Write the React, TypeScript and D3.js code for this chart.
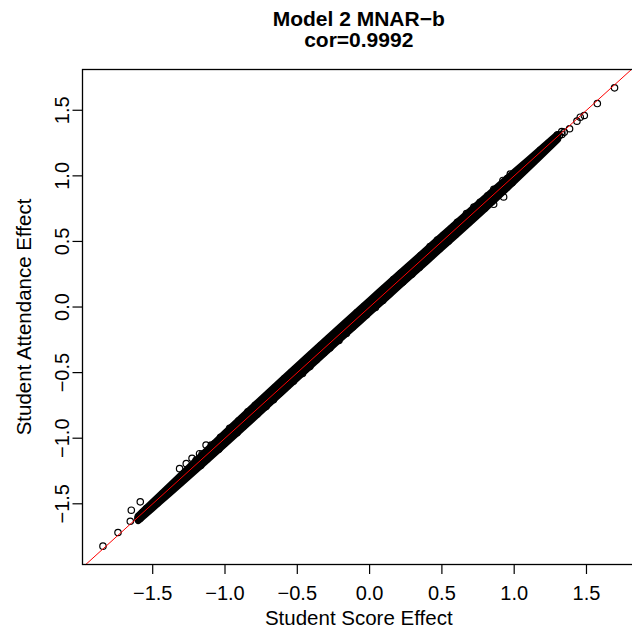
import * as d3 from 'd3';

const W = 632;
const H = 628;

const titleLines = ['Model 2 MNAR\u2212b', 'cor=0.9992'];
const xLabel = 'Student Score Effect';
const yLabel = 'Student Attendance Effect';
const tickValues = [-1.5, -1, -0.5, 0, 0.5, 1, 1.5];

// [score effect, attendance effect]
const outerPoints: [number, number][] = [
  [-1.844, -1.823], [-1.740, -1.719], [-1.655, -1.633], [-1.648, -1.549],
  [-1.586, -1.485], [-1.314, -1.232], [-1.268, -1.194], [-1.228, -1.153],
  [-1.176, -1.118], [-1.131, -1.052], [0.858, 0.783], [0.927, 0.839],
  [1.330, 1.316], [1.383, 1.359], [1.434, 1.417], [1.457, 1.447],
  [1.485, 1.460], [1.575, 1.551], [1.694, 1.671],
];

// envelope of the overplotted core (where the circles pile up into solid ink)
const coreScore = [-1.60, -1.45, -1.30, -1.15, -1.00, -0.80, -0.60, -0.40, -0.20, 0.00, 0.20, 0.40, 0.60, 0.80, 1.00, 1.15, 1.30];
const coreLow = [-1.625, -1.480, -1.335, -1.188, -1.040, -0.840, -0.638, -0.436, -0.236, -0.038, 0.160, 0.358, 0.556, 0.756, 0.962, 1.120, 1.280];
const coreHigh = [-1.595, -1.438, -1.280, -1.122, -0.965, -0.758, -0.554, -0.352, -0.152, 0.046, 0.244, 0.440, 0.636, 0.830, 1.024, 1.168, 1.312];

const lowerBand: [number, number][] = [
  [-1.602, -1.610], [-1.588, -1.613], [-1.571, -1.569], [-1.559, -1.575],
  [-1.543, -1.537], [-1.528, -1.549], [-1.516, -1.520], [-1.499, -1.511],
  [-1.487, -1.495], [-1.470, -1.495], [-1.458, -1.456], [-1.441, -1.457],
  [-1.429, -1.423], [-1.414, -1.435], [-1.398, -1.402], [-1.386, -1.398],
  [-1.371, -1.379], [-1.357, -1.382], [-1.342, -1.340], [-1.329, -1.345],
  [-1.313, -1.307], [-1.301, -1.322], [-1.286, -1.290], [-1.272, -1.284],
  [-1.258, -1.266], [-1.243, -1.268], [-1.229, -1.227], [-1.214, -1.230],
];

const coreBand: [number, number][] = [
  [-1.200, -1.169], [-1.189, -1.216], [-1.180, -1.172], [-1.168, -1.209], [-1.158, -1.120], [-1.147, -1.159],
  [-1.137, -1.115], [-1.126, -1.160], [-1.117, -1.102], [-1.105, -1.111], [-1.095, -1.052], [-1.084, -1.104],
  [-1.073, -1.042], [-1.063, -1.090], [-1.052, -1.044], [-1.043, -1.084], [-1.031, -0.993], [-1.021, -1.033],
  [-1.010, -0.988], [-1.000, -1.034], [-0.989, -0.974], [-0.980, -0.986], [-0.968, -0.925], [-0.958, -0.978],
  [-0.947, -0.916], [-0.937, -0.964], [-0.926, -0.918], [-0.917, -0.958], [-0.905, -0.867], [-0.895, -0.907],
  [-0.884, -0.862], [-0.874, -0.908], [-0.863, -0.848], [-0.854, -0.860], [-0.842, -0.799], [-0.832, -0.852],
  [-0.821, -0.852], [-0.811, -0.784], [-0.800, -0.808], [-0.791, -0.750], [-0.779, -0.817], [-0.769, -0.757],
  [-0.758, -0.780], [-0.748, -0.714], [-0.737, -0.752], [-0.728, -0.722], [-0.716, -0.759], [-0.706, -0.686],
  [-0.695, -0.664], [-0.685, -0.712], [-0.674, -0.666], [-0.665, -0.706], [-0.653, -0.615], [-0.643, -0.655],
  [-0.632, -0.610], [-0.622, -0.656], [-0.611, -0.596], [-0.602, -0.608], [-0.590, -0.547], [-0.580, -0.600],
  [-0.569, -0.600], [-0.559, -0.532], [-0.548, -0.556], [-0.539, -0.498], [-0.527, -0.565], [-0.517, -0.505],
  [-0.506, -0.528], [-0.496, -0.462], [-0.485, -0.500], [-0.476, -0.470], [-0.464, -0.507], [-0.454, -0.434],
  [-0.443, -0.412], [-0.433, -0.460], [-0.422, -0.414], [-0.413, -0.454], [-0.401, -0.363], [-0.391, -0.403],
  [-0.380, -0.358], [-0.370, -0.404], [-0.359, -0.344], [-0.350, -0.356], [-0.338, -0.295], [-0.328, -0.348],
  [-0.317, -0.348], [-0.307, -0.280], [-0.296, -0.304], [-0.287, -0.246], [-0.275, -0.313], [-0.265, -0.253],
  [-0.254, -0.276], [-0.244, -0.210], [-0.233, -0.248], [-0.224, -0.218], [-0.212, -0.255], [-0.202, -0.182],
  [-0.191, -0.160], [-0.181, -0.208], [-0.170, -0.162], [-0.161, -0.202], [-0.149, -0.111], [-0.139, -0.151],
  [-0.128, -0.106], [-0.118, -0.152], [-0.107, -0.092], [-0.098, -0.104], [-0.086, -0.043], [-0.076, -0.096],
  [-0.065, -0.096], [-0.055, -0.028], [-0.044, -0.052], [-0.035, 0.006], [-0.023, -0.061], [-0.013, -0.001],
  [-0.002, -0.024], [0.008, 0.042], [0.019, 0.004], [0.028, 0.034], [0.040, -0.003], [0.050, 0.070],
  [0.061, 0.092], [0.071, 0.044], [0.082, 0.090], [0.091, 0.050], [0.103, 0.141], [0.113, 0.101],
  [0.124, 0.146], [0.134, 0.100], [0.145, 0.160], [0.154, 0.148], [0.166, 0.209], [0.176, 0.156],
  [0.187, 0.156], [0.197, 0.224], [0.208, 0.200], [0.217, 0.258], [0.229, 0.191], [0.239, 0.251],
  [0.250, 0.228], [0.260, 0.294], [0.271, 0.256], [0.280, 0.286], [0.292, 0.249], [0.302, 0.322],
  [0.313, 0.344], [0.323, 0.296], [0.334, 0.342], [0.343, 0.302], [0.355, 0.393], [0.365, 0.353],
  [0.376, 0.398], [0.386, 0.352], [0.397, 0.412], [0.406, 0.400], [0.418, 0.461], [0.428, 0.408],
  [0.439, 0.408], [0.449, 0.476], [0.460, 0.452], [0.469, 0.510], [0.481, 0.443], [0.491, 0.503],
  [0.502, 0.480], [0.512, 0.546], [0.523, 0.508], [0.532, 0.538], [0.544, 0.501], [0.554, 0.574],
  [0.565, 0.596], [0.575, 0.548], [0.586, 0.594], [0.595, 0.554], [0.607, 0.645], [0.617, 0.605],
  [0.628, 0.650], [0.638, 0.604], [0.649, 0.664], [0.658, 0.652], [0.670, 0.713], [0.680, 0.660],
  [0.691, 0.660], [0.701, 0.728], [0.712, 0.704], [0.721, 0.762], [0.733, 0.695], [0.743, 0.755],
  [0.754, 0.732], [0.764, 0.798], [0.775, 0.760], [0.784, 0.790], [0.796, 0.753], [0.806, 0.826],
  [0.817, 0.848], [0.827, 0.800], [0.838, 0.846], [0.847, 0.806], [0.859, 0.897], [0.869, 0.857],
  [0.880, 0.902], [0.890, 0.856], [0.901, 0.916], [0.910, 0.904], [0.922, 0.965], [0.932, 0.912],
  [0.943, 0.912], [0.953, 0.980], [0.964, 0.956], [0.973, 1.014], [0.985, 0.947], [0.995, 1.007],
];

const upperBand: [number, number][] = [
  [1.008, 1.018], [1.021, 1.005], [1.037, 1.041], [1.050, 1.040], [1.066, 1.080], [1.079, 1.073],
  [1.094, 1.102], [1.108, 1.095], [1.123, 1.133], [1.137, 1.121], [1.152, 1.156], [1.166, 1.156],
  [1.181, 1.195], [1.195, 1.189], [1.210, 1.218], [1.224, 1.211], [1.239, 1.249], [1.254, 1.238],
  [1.268, 1.272], [1.283, 1.273], [1.298, 1.312], [1.313, 1.307], [1.329, 1.337], [1.346, 1.333],
];

const allPoints = [...lowerBand, ...coreBand, ...upperBand, ...outerPoints];

// plot region (R style: box + 4% padded ranges)
const left = 82.5;
const right = 635;
const top = 69.5;
const bottom = 564.5;
const pointR = 3.2;
const pointStroke = 1.2;

function padded(ext: [number, number]): [number, number] {
  const d = (ext[1] - ext[0]) * 0.04;
  return [ext[0] - d, ext[1] + d];
}

export default function App() {
  const xExt = d3.extent(allPoints, (d) => d[0]) as [number, number];
  const yExt = d3.extent(allPoints, (d) => d[1]) as [number, number];
  const x = d3.scaleLinear().domain(padded(xExt)).range([left, right]);
  const y = d3.scaleLinear().domain(padded(yExt)).range([bottom, top]);
  const fmt = d3.format('.1f');

  const coreArea = d3
    .area<number>()
    .x((_, i) => x(coreScore[i]))
    .y0((_, i) => y(coreLow[i]))
    .y1((_, i) => y(coreHigh[i]))
    .curve(d3.curveMonotoneX);

  // reference line y = x, clipped to the box
  const lo = Math.max(x.domain()[0], y.domain()[0]);
  const hi = Math.min(x.domain()[1], y.domain()[1]);

  const font = '"Liberation Sans", Arial, Helvetica, sans-serif';
  const cx = (left + right) / 2;
  const cy = (top + bottom) / 2;

  return (
    <svg width={W} height={H} style={{ position: 'absolute', left: 0, top: 0, background: '#fff' }} fontFamily={font}>
      <rect x={0} y={0} width={W} height={H} fill="#fff" />
      <text x={cx} y={25.5} textAnchor="middle" fontSize={21} fontWeight="bold">{titleLines[0]}</text>
      <text x={cx} y={46.5} textAnchor="middle" fontSize={21} fontWeight="bold">{titleLines[1]}</text>

      <path
        d={coreArea(coreScore) || ''}
        fill="#000"
        stroke="#000"
        strokeWidth={2 * pointR + pointStroke}
        strokeLinejoin="round"
        strokeLinecap="round"
      />
      <g fill="none" stroke="#000" strokeWidth={pointStroke}>
        {allPoints.map((d, i) => (
          <circle key={i} cx={x(d[0])} cy={y(d[1])} r={pointR} />
        ))}
      </g>

      <line x1={x(lo)} y1={y(lo)} x2={x(hi)} y2={y(hi)} stroke="#ff0000" strokeWidth={1} />

      <rect x={left} y={top} width={right - left} height={bottom - top} fill="none" stroke="#000" strokeWidth={1.3} />

      {tickValues.map((t) => (
        <g key={'x' + t}>
          <line x1={x(t)} x2={x(t)} y1={bottom} y2={bottom + 9.5} stroke="#000" strokeWidth={1.2} />
          <text x={x(t)} y={600} textAnchor="middle" fontSize={20}>{fmt(t)}</text>
        </g>
      ))}
      {tickValues.map((t) => (
        <g key={'y' + t}>
          <line x1={left - 10} x2={left} y1={y(t)} y2={y(t)} stroke="#000" strokeWidth={1.2} />
          <text transform={`translate(68.5,${y(t)}) rotate(-90)`} textAnchor="middle" fontSize={20}>{fmt(t)}</text>
        </g>
      ))}

      <text x={cx} y={624.5} textAnchor="middle" fontSize={20.5}>{xLabel}</text>
      <text transform={`translate(31,${cy}) rotate(-90)`} textAnchor="middle" fontSize={20.5}>{yLabel}</text>
    </svg>
  );
}
